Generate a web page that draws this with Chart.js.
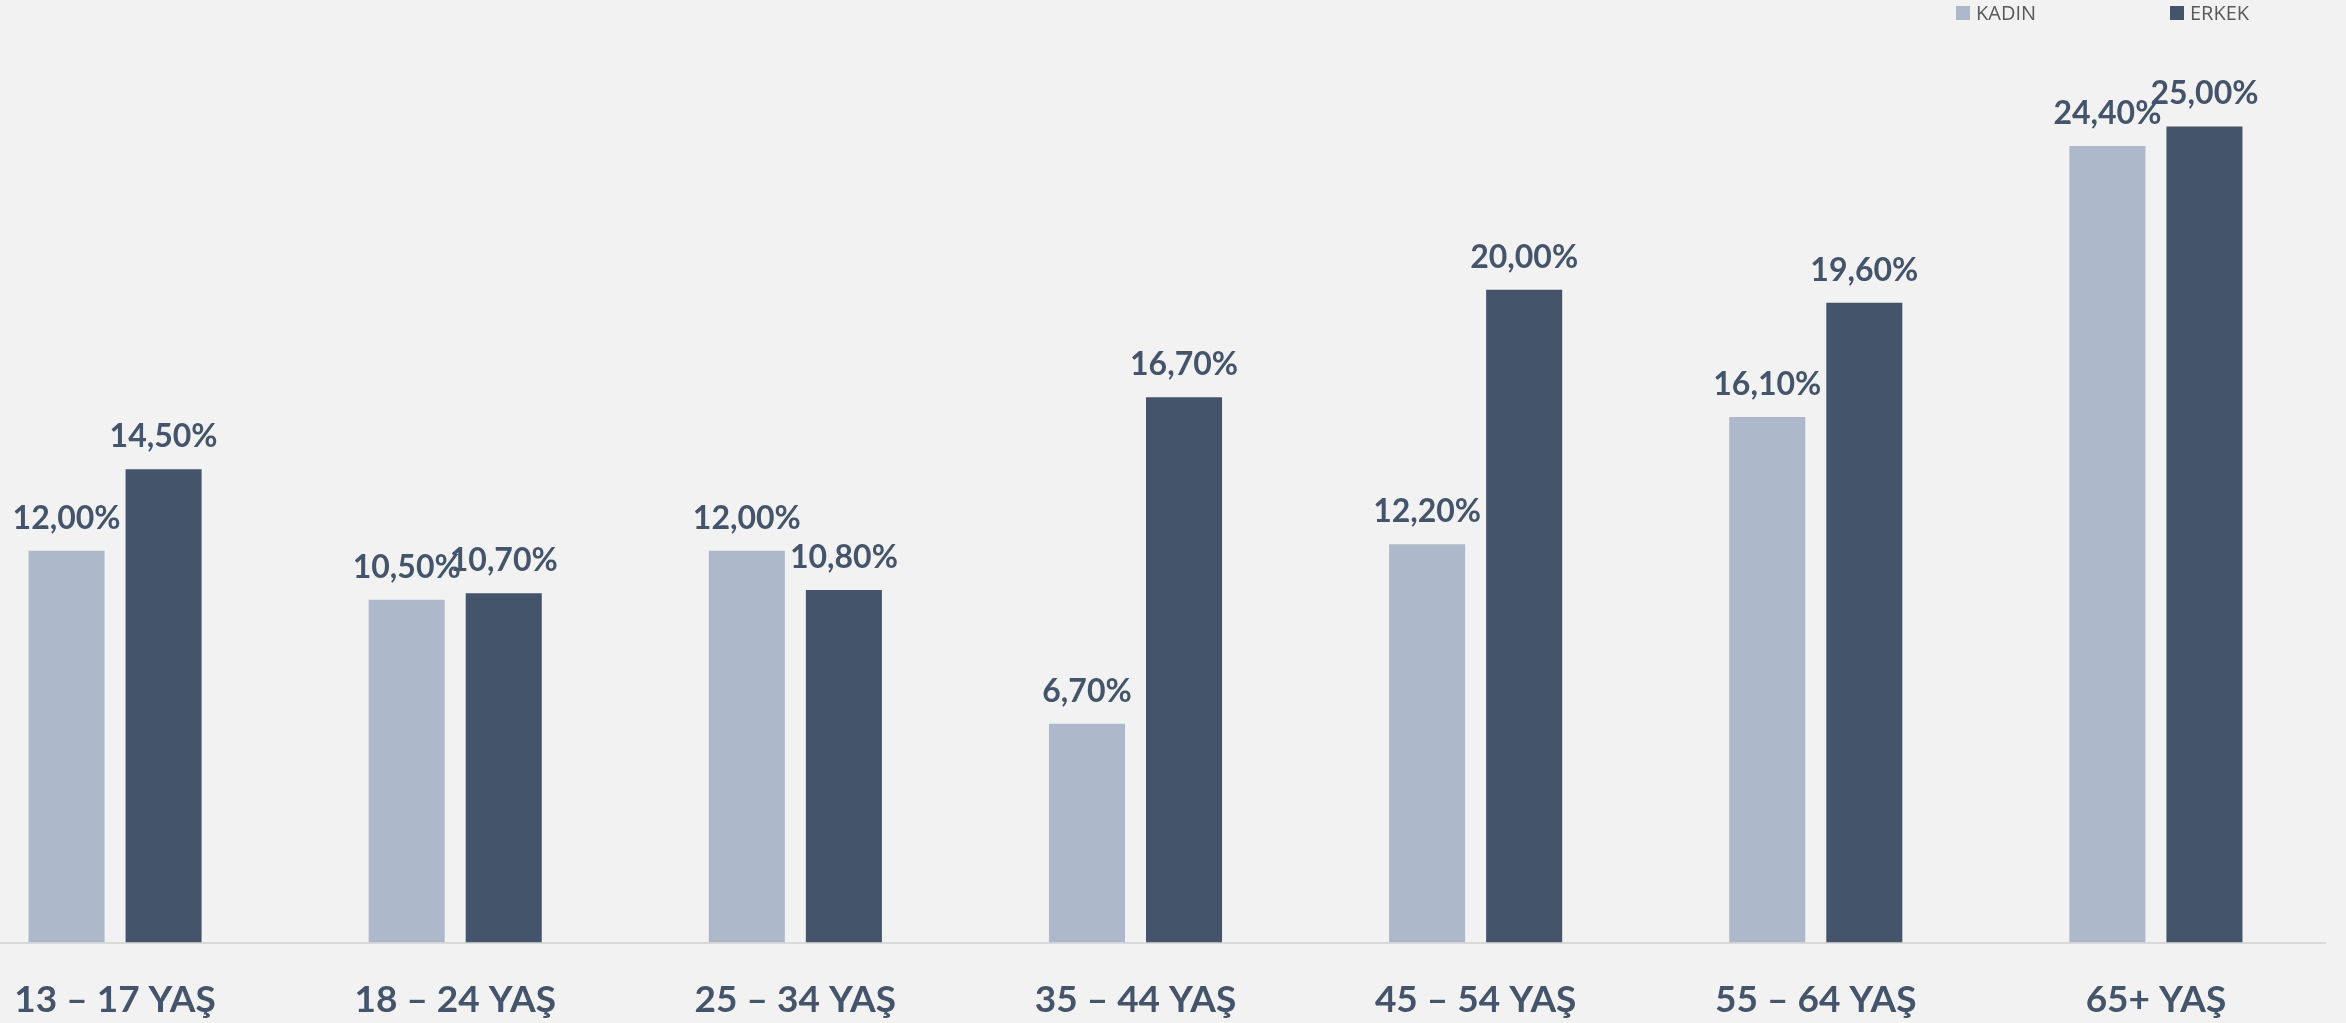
<!DOCTYPE html>
<html>
<head>
<meta charset="utf-8">
<script src="https://cdn.jsdelivr.net/npm/chart.js@4.4.1/dist/chart.umd.min.js"></script>
<style>
  html, body { margin: 0; padding: 0; background: #F2F2F2; overflow: hidden; }
  #wrap { position: relative; width: 2346px; height: 1023px; overflow: hidden; }
  #agecnv { position: absolute; left: -55px; top: 0; }
</style>
</head>
<body>
<div id="wrap"><canvas id="agecnv" width="2381" height="1023"></canvas></div>
<script>
const ageLabels = ['13 – 17 YAŞ', '18 – 24 YAŞ', '25 – 34 YAŞ', '35 – 44 YAŞ', '45 – 54 YAŞ', '55 – 64 YAŞ', '65+ YAŞ'];
const kadinValues = [12.0, 10.5, 12.0, 6.7, 12.2, 16.1, 24.4];
const erkekValues = [14.5, 10.7, 10.8, 16.7, 20.0, 19.6, 25.0];
const seriesNames = ['KADIN', 'ERKEK'];

const LIGHT = '#ADB9CA';
const DARK = '#44546A';

function formatPct(v){
  return v.toFixed(2).replace('.', ',') + '%';
}

// value labels above every bar
const barLabels = {
  id: 'barLabels',
  afterDatasetsDraw(chart) {
    const ctx = chart.ctx;
    ctx.save();
    ctx.font = 'bold 32px Lato';
    ctx.fillStyle = DARK;
    ctx.textAlign = 'center';
    ctx.textBaseline = 'alphabetic';
    chart.data.datasets.forEach((ds, i) => {
      chart.getDatasetMeta(i).data.forEach((bar, j) => {
        ctx.fillText(formatPct(ds.data[j]), bar.x, bar.y - 22);
      });
    });
    ctx.restore();
  }
};

// small legend in the top right corner
const topLegend = {
  id: 'topLegend',
  afterDraw(chart) {
    const ctx = chart.ctx;
    const starts = [chart.width - 370, chart.width - 156];
    ctx.save();
    ctx.font = '20px "Open Sans"';
    ctx.textBaseline = 'alphabetic';
    ctx.textAlign = 'left';
    chart.data.datasets.forEach((ds, i) => {
      ctx.fillStyle = ds.backgroundColor;
      ctx.fillRect(starts[i], 6, 14, 14);
      ctx.fillStyle = '#595959';
      ctx.fillText(ds.label, starts[i] + 20, 20);
    });
    ctx.restore();
  }
};

function drawAgeChart(){
  const ctx = document.getElementById('agecnv').getContext('2d');
  new Chart(ctx, {
    type: 'bar',
    data: {
      labels: ageLabels,
      datasets: [
        { label: seriesNames[0], data: kadinValues, backgroundColor: LIGHT },
        { label: seriesNames[1], data: erkekValues, backgroundColor: DARK }
      ]
    },
    options: {
      responsive: false,
      animation: false,
      devicePixelRatio: 1,
      categoryPercentage: 0.5706,
      barPercentage: 0.7835,
      layout: { padding: { top: 28.5, left: 0, right: 0, bottom: 0 } },
      plugins: {
        legend: { display: false },
        tooltip: { enabled: false }
      },
      scales: {
        x: {
          grid: { display: false, drawTicks: false },
          border: { display: true, color: '#D9D9D9', width: 2 },
          ticks: {
            color: DARK,
            padding: 35,
            maxRotation: 0,
            autoSkip: false,
            font: { family: 'Lato', weight: 'bold', size: 37 }
          },
          afterFit(scale) { scale.height = 80.5; }
        },
        y: {
          display: false,
          min: 0,
          max: 28
        }
      }
    },
    plugins: [barLabels, topLegend]
  });
}

Promise.all([
  document.fonts.load('bold 32px Lato'),
  document.fonts.load('20px "Open Sans"')
]).catch(() => null).then(drawAgeChart);
</script>
</body>
</html>
